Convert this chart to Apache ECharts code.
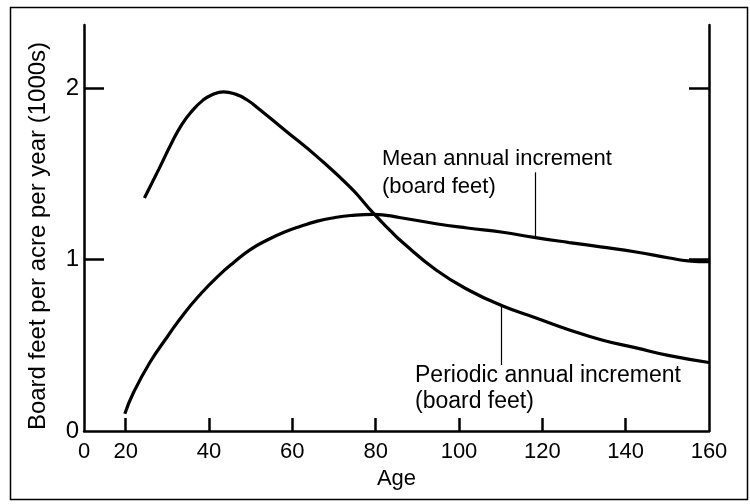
<!DOCTYPE html>
<html>
<head>
<meta charset="utf-8">
<script src="https://cdn.jsdelivr.net/npm/echarts@6/dist/echarts.min.js"></script>
<style>html,body{margin:0;padding:0;background:#fff}#c{width:750px;height:504px}</style>
</head>
<body>
<div id="c"></div>
<script>
// Ages (years) and values (1000s board feet per acre per year)
var paiAges = [24.5, 28, 31, 33.5, 36, 38.5, 40.5, 43.5, 46.5, 49, 52, 58, 66, 74, 79.5, 83.5, 86.5, 94.5, 102.5, 110.5, 118.5, 126.5, 134.5, 142.5, 150.5, 160];
var paiValues = [1.36, 1.53, 1.68, 1.79, 1.87, 1.93, 1.96, 1.98, 1.965, 1.935, 1.88, 1.76, 1.60, 1.42, 1.27, 1.17, 1.10, 0.94, 0.82, 0.73, 0.66, 0.59, 0.53, 0.485, 0.44, 0.40];
var maiAges = [19.8, 21.8, 25.8, 30, 34, 38, 42, 46, 50, 54, 58, 62, 66, 70, 74, 79.5, 86, 94.5, 102, 110.5, 118, 126.5, 134, 142.5, 150.5, 155, 160];
var maiValues = [0.10, 0.22, 0.40, 0.55, 0.685, 0.80, 0.90, 0.985, 1.06, 1.115, 1.16, 1.195, 1.225, 1.245, 1.258, 1.265, 1.245, 1.21, 1.185, 1.16, 1.13, 1.10, 1.075, 1.045, 1.01, 0.993, 0.988];
var xLabelValues = [10, 20, 40, 60, 80, 100, 120, 140, 160];
var xTickValues = [20, 40, 60, 80, 100, 120, 140];
var yLabelValues = [0, 1, 2];
var yTickValues = [1, 2];
var maiLeader = [118.2, 1.51, 1.13];
var paiLeader = [110.1, 0.385, 0.735];
var maiText = 'Mean annual increment\n(board feet)';
var paiText = 'Periodic annual increment\n(board feet)';
var yName = 'Board feet per acre per year (1000s)';
var xName = 'Age';

var FONT = 'Liberation Sans';
function pairs(a, b) { return a.map(function (v, i) { return [v, b[i]]; }); }

var chart = echarts.init(document.getElementById('c'), null, { renderer: 'canvas' });
var axisLine = { show: true, lineStyle: { color: '#000', width: 2.5 } };
chart.setOption({
  animation: false,
  backgroundColor: '#fff',
  grid: { left: 84, right: 41, top: 25, bottom: 73 },
  xAxis: {
    type: 'value', min: 10, max: 160,
    name: xName, nameLocation: 'middle', nameGap: 36,
    nameTextStyle: { fontFamily: FONT, fontSize: 22, color: '#000' },
    axisLine: axisLine,
    axisTick: { show: true, inside: true, length: 13, customValues: xTickValues, lineStyle: { color: '#000', width: 2.5 } },
    axisLabel: { customValues: xLabelValues, formatter: function (v) { return v === 10 ? '0' : String(v); }, fontFamily: FONT, fontSize: 22, color: '#000', margin: 10 },
    splitLine: { show: false }
  },
  yAxis: [{
    type: 'value', min: 0, max: 2.37, position: 'left',
    axisLine: axisLine,
    axisTick: { show: true, inside: true, length: 20, customValues: yTickValues, lineStyle: { color: '#000', width: 2.5 } },
    axisLabel: { customValues: yLabelValues, fontFamily: FONT, fontSize: 24, color: '#000', margin: 5 },
    splitLine: { show: false }
  }, {
    type: 'value', min: 0, max: 2.37, position: 'right',
    axisLine: axisLine,
    axisTick: { show: true, inside: true, length: 20, customValues: yTickValues, lineStyle: { color: '#000', width: 2.5 } },
    axisLabel: { show: false },
    splitLine: { show: false }
  }],
  series: [{
    type: 'line', name: 'Periodic annual increment', data: pairs(paiAges, paiValues),
    smooth: 0.5, symbol: 'none', lineStyle: { color: '#000', width: 3.2 },
    markLine: { silent: true, symbol: 'none', label: { show: false }, lineStyle: { color: '#000', width: 1.2, type: 'solid' },
      data: [[{ coord: [paiLeader[0], paiLeader[1]] }, { coord: [paiLeader[0], paiLeader[2]] }]] }
  }, {
    type: 'line', name: 'Mean annual increment', data: pairs(maiAges, maiValues),
    smooth: 0.5, symbol: 'none', lineStyle: { color: '#000', width: 3.2 },
    markLine: { silent: true, symbol: 'none', label: { show: false }, lineStyle: { color: '#000', width: 1.2, type: 'solid' },
      data: [[{ coord: [maiLeader[0], maiLeader[1]] }, { coord: [maiLeader[0], maiLeader[2]] }]] }
  }],
  graphic: [
    { type: 'rect', silent: true, shape: { x: 10.5, y: 7.5, width: 737, height: 492 }, style: { fill: 'none', stroke: '#000', lineWidth: 1.5 } },
    { type: 'text', silent: true, x: 38, y: 236, rotation: Math.PI / 2,
      style: { text: yName, font: '24px "' + FONT + '"', fill: '#000', align: 'center', verticalAlign: 'middle' } },
    { type: 'text', silent: true, x: 382, y: 145,
      style: { text: maiText, font: '22px "' + FONT + '"', fill: '#000', align: 'left', verticalAlign: 'top', lineHeight: 28 } },
    { type: 'text', silent: true, x: 415, y: 363,
      style: { text: paiText, font: '23px "' + FONT + '"', fill: '#000', align: 'left', verticalAlign: 'top', lineHeight: 26 } }
  ]
});
</script>
</body>
</html>
